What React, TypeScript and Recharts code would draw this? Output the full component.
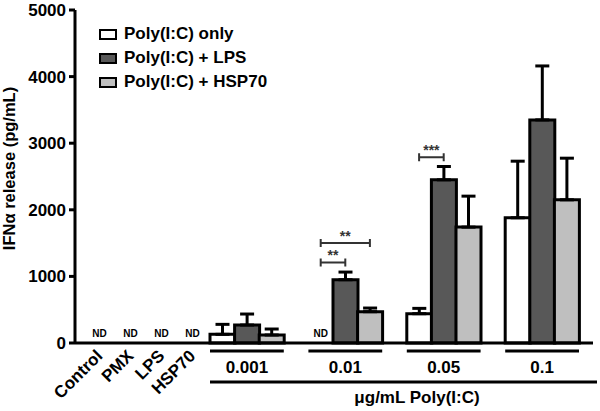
import { ComposedChart, Bar, Scatter, XAxis, YAxis, Cell, ErrorBar, ReferenceLine } from "recharts";

const FONT = '"Liberation Sans", Arial, Helvetica, sans-serif';
const INK = "#000";

const controls = ["Control", "PMX", "LPS", "HSP70"];
const doses = ["0.001", "0.01", "0.05", "0.1"];
const seriesNames = ["Poly(I:C) only", "Poly(I:C) + LPS", "Poly(I:C) + HSP70"];
const seriesColors = ["#ffffff", "#585858", "#bfbfbf"];

// mean and upper SEM per dose; null = not detected
const onlyMean = [130, null, 440, 1880];
const onlyErr = [150, null, 80, 850];
const lpsMean = [270, 950, 2450, 3350];
const lpsErr = [165, 115, 200, 810];
const hspMean = [120, 470, 1740, 2150];
const hspErr = [90, 55, 465, 625];

const yTicks = [0, 1000, 2000, 3000, 4000, 5000];

const comparisons = [
  { dose: "0.01", from: 0, to: 1, y: 1210, stars: "**" },
  { dose: "0.01", from: 0, to: 2, y: 1500, stars: "**" },
  { dose: "0.05", from: 0, to: 1, y: 2790, stars: "***" },
];

type Row = {
  key: string;
  value: number | null;
  err: number[] | null;
  nd: boolean;
  fill: string;
  series?: number;
  dose?: string;
};

const means = [onlyMean, lpsMean, hspMean];
const errs = [onlyErr, lpsErr, hspErr];

// controls: nothing detected, plotted on their own axis
const controlRows = controls.map((c) => ({ name: c, value: 0 }));

const rows: Row[] = [];
doses.forEach((d, di) => {
  if (di > 0) rows.push({ key: `gap${di}`, value: null, err: null, nd: false, fill: "none" });
  means.forEach((arr, si) => {
    const m = arr[di];
    const e = errs[si][di];
    rows.push({
      key: `${d}|${si}`,
      value: m == null ? 0 : m,
      err: m == null || e == null ? null : [0, e],
      nd: m == null,
      fill: seriesColors[si],
      series: si,
      dose: d,
    });
  });
});
const rowByKey = new Map(rows.map((r) => [r.key, r]));

function NdText({ x, y }: { x: number; y: number }) {
  return (
    <text x={x} y={y - 6} textAnchor="middle" fontFamily={FONT} fontWeight={700} fontSize={10} fill={INK}>
      ND
    </text>
  );
}

function DoseTick(props: any) {
  const { x, y, payload } = props;
  const row = rowByKey.get(payload.value);
  if (!row) return null;
  if (row.nd) return <NdText x={x} y={y} />;
  if (row.series === 1) {
    const half = (payload.offset ?? 12.3) * 3;
    return (
      <g>
        <line x1={x - half} x2={x + half} y1={y + 8} y2={y + 8} stroke={INK} strokeWidth={3} />
        <text x={x} y={y + 30} textAnchor="middle" fontFamily={FONT} fontWeight={700} fontSize={17} fill={INK}>
          {row.dose}
        </text>
      </g>
    );
  }
  return null;
}

function ControlMark(props: any) {
  const { cx, cy, payload } = props;
  const tx = cx + 4;
  const ty = cy + 14;
  return (
    <g>
      <NdText x={cx} y={cy} />
      <text
        x={tx}
        y={ty}
        transform={`rotate(-45 ${tx} ${ty})`}
        textAnchor="end"
        fontFamily={FONT}
        fontWeight={700}
        fontSize={17}
        fill={INK}
      >
        {payload.name}
      </text>
    </g>
  );
}

function Bracket(props: any) {
  const { x1, y1, x2, y2 } = props;
  return (
    <path
      d={`M${x1},${y1 - 4}V${y1 + 4}M${x1},${y1}H${x2}M${x2},${y2 - 4}V${y2 + 4}`}
      stroke="#333"
      strokeWidth={2}
      fill="none"
    />
  );
}

function LegendBox() {
  return (
    <div style={{ position: "absolute", left: 99, top: 22, fontFamily: FONT, fontWeight: 700, fontSize: 17 }}>
      {seriesNames.map((n, i) => (
        <div key={n} style={{ display: "flex", alignItems: "center", height: 24 }}>
          <span
            style={{
              display: "inline-block",
              width: 14,
              height: 7,
              border: "2.5px solid #000",
              background: seriesColors[i],
              marginRight: 7,
            }}
          />
          <span>{n}</span>
        </div>
      ))}
    </div>
  );
}

export default function App() {
  return (
    <div style={{ position: "absolute", left: 0, top: 0, width: 600, height: 411, background: "#fff" }}>
      <ComposedChart
        width={600}
        height={411}
        data={rows}
        margin={{ top: 10, right: 7, left: 15, bottom: 8 }}
        barCategoryGap={0}
        barGap={0}
      >
        <XAxis
          xAxisId="dose"
          dataKey="key"
          interval={0}
          height={60}
          padding={{ left: 135, right: 14 }}
          tickLine={false}
          tickSize={0}
          tickMargin={0}
          axisLine={{ stroke: INK, strokeWidth: 3 }}
          tick={<DoseTick />}
          label={(p: any) => {
            const vb = p.viewBox;
            return (
              <g>
                <line x1={vb.x + 135} x2={vb.x + vb.width + 4} y1={vb.y + 39} y2={vb.y + 39} stroke={INK} strokeWidth={3} />
                <text x={vb.x + 342} y={vb.y + 60} textAnchor="middle" fontFamily={FONT} fontWeight={700} fontSize={17} fill={INK}>
                  μg/mL Poly(I:C)
                </text>
              </g>
            );
          }}
        />
        <XAxis xAxisId="ctrl" dataKey="name" type="category" hide height={0} padding={{ left: 9, right: 385 }} />
        <YAxis
          width={60}
          domain={[0, 5000]}
          ticks={yTicks}
          interval={0}
          tickSize={6}
          tickMargin={3}
          axisLine={{ stroke: INK, strokeWidth: 3 }}
          tickLine={{ stroke: INK, strokeWidth: 3 }}
          tick={{ fontFamily: FONT, fontWeight: 700, fontSize: 17, fill: INK }}
          label={(p: any) => {
            const vb = p.viewBox;
            const cx = vb.x;
            const cy = vb.y + vb.height / 2 - 8;
            return (
              <text
                x={cx}
                y={cy}
                transform={`rotate(-90 ${cx} ${cy})`}
                textAnchor="middle"
                fontFamily={FONT}
                fontWeight={700}
                fontSize={16.5}
                fill={INK}
              >
                IFNα release (pg/mL)
              </text>
            );
          }}
        />
        <Bar xAxisId="dose" dataKey="value" stroke={INK} strokeWidth={3} isAnimationActive={false}>
          {rows.map((r) => (
            <Cell key={r.key} fill={r.fill} />
          ))}
          <ErrorBar dataKey="err" direction="y" width={7} stroke={INK} strokeWidth={3} />
        </Bar>
        <Scatter
          xAxisId="ctrl"
          data={controlRows}
          dataKey="value"
          shape={(p: any) => <ControlMark {...p} />}
          isAnimationActive={false}
        />
        {comparisons.map((c) => (
          <ReferenceLine
            key={`${c.dose}-${c.to}`}
            xAxisId="dose"
            segment={[
              { x: `${c.dose}|${c.from}`, y: c.y },
              { x: `${c.dose}|${c.to}`, y: c.y },
            ]}
            shape={(p: any) => <Bracket {...p} />}
            label={{ value: c.stars, position: "top", offset: 2, fill: "#333", fontSize: 14, fontWeight: 700, fontFamily: FONT }}
          />
        ))}
      </ComposedChart>
      <LegendBox />
    </div>
  );
}
